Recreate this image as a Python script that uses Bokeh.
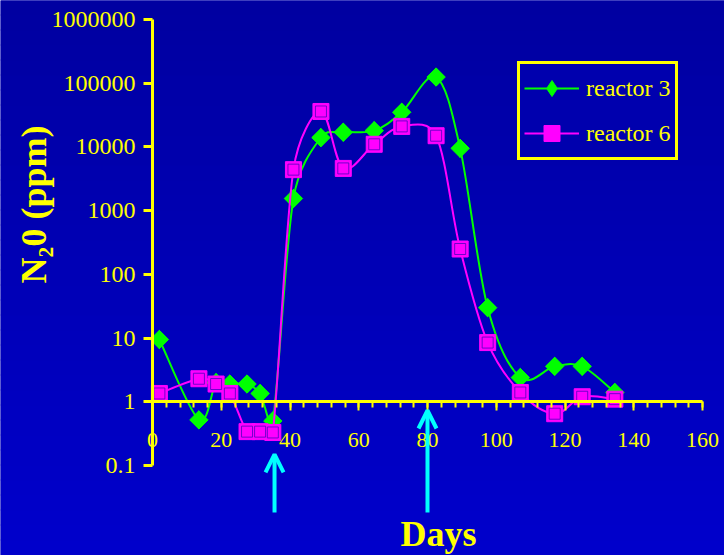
import numpy as np
from bokeh.plotting import figure
from bokeh.models import (Range1d, FixedTicker, BasicTickFormatter, Legend,
                          LegendItem, Arrow, OpenHead, Label, BoxAnnotation)
from bokeh.embed import file_html
from bokeh.resources import INLINE

# Sampling days (shared by both reactors)
days = [2, 13.5, 18.5, 22.5, 27.5, 31.3, 35, 41, 49, 55.5, 64.5, 72.5,
        82.5, 89.5, 97.5, 107, 117, 125, 134.5]

# N2O concentration, ppm
reactor3 = [9.5, 0.52, 2.0, 1.9, 1.9, 1.35, 0.5, 1550, 14000, 17000, 18000,
            35000, 125000, 9500, 30, 2.4, 3.6, 3.6, 1.4]
reactor6 = [1.35, 2.3, 1.9, 1.35, 0.34, 0.34, 0.33, 4400, 36000, 4600, 11000,
            21000, 15000, 250, 8.5, 1.4, 0.65, 1.2, 1.1]

x_ticks = [0, 20, 40, 60, 80, 100, 120, 140, 160]
x_minor = list(range(0, 161, 4))
y_ticks = [0.1, 1, 10, 100, 1000, 10000, 100000, 1000000]

# Event markers along the time axis
arrow_days = [35.5, 80]
arrow_tips = [0.149, 0.73]
arrow_base = 0.0183

W, H = 724, 555
TOP_BG = (0, 0, 0xA0)
BOTTOM_BG = (0, 0, 0xCC)
YELLOW = "#FFFF00"
GREEN = "#00FF00"
MAGENTA = "#FF00FF"
CYAN = "#00FFFF"
SERIF = "Liberation Serif"

# scale used for the curve smoothing (pixels per day, pixels per decade)
PX_DAY = 550 / 160
PX_DEC = 446 / 7


def smooth_segments(xs, ys, limit=0.5):
    """Cubic Bezier pieces through the points, built in (x, log10 y) space.
    Tangent handles are capped relative to the segment length so that steep
    jumps do not make the curve swing past its end points."""
    x = np.asarray(xs, float) * PX_DAY
    ly = np.log10(np.asarray(ys, float)) * PX_DEC
    n = len(x)
    pts = np.c_[x, ly]
    tang = np.zeros_like(pts)
    for k in range(n):
        a = pts[max(k - 1, 0)]
        b = pts[min(k + 1, n - 1)]
        tang[k] = (b - a) / 6
    c0, c1 = [], []
    for i in range(n - 1):
        seg = np.hypot(*(pts[i + 1] - pts[i]))
        t0 = tang[i].copy()
        t1 = tang[i + 1].copy()
        for t in (t0, t1):
            L = np.hypot(*t)
            if L > limit * seg:
                t *= limit * seg / L
        c0.append(pts[i] + t0)
        c1.append(pts[i + 1] - t1)
    c0 = np.array(c0)
    c1 = np.array(c1)
    return dict(x0=x[:-1] / PX_DAY, y0=10 ** (ly[:-1] / PX_DEC),
                x1=x[1:] / PX_DAY, y1=10 ** (ly[1:] / PX_DEC),
                cx0=c0[:, 0] / PX_DAY, cy0=10 ** (c0[:, 1] / PX_DEC),
                cx1=c1[:, 0] / PX_DAY, cy1=10 ** (c1[:, 1] / PX_DEC))


# The plotting frame fills the whole canvas; the axes are pinned at x=0, y=1.
x_lo = -152 / PX_DAY
x_hi = 160 + 22 / PX_DAY
y_lo = 10 ** (-1 - 90 / PX_DEC)
y_hi = 10 ** (6 + 19 / PX_DEC)

p = figure(width=W, height=H, y_axis_type="log",
           x_range=Range1d(x_lo, x_hi), y_range=Range1d(y_lo, y_hi),
           output_backend="svg", toolbar_location=None,
           min_border=0, min_border_left=0, min_border_right=0,
           min_border_top=0, min_border_bottom=0,
           background_fill_color="#0000B6", border_fill_color="#0000B6",
           outline_line_color=None)
p.grid.visible = False

# vertical background shading, darker at the top
bands = 37
edges = np.linspace(0, H, bands + 1)
for k in range(bands):
    f = (k + 0.5) / bands  # 0 at bottom, 1 at top
    b = round(BOTTOM_BG[2] + (TOP_BG[2] - BOTTOM_BG[2]) * f)
    p.add_layout(BoxAnnotation(bottom=edges[k], top=edges[k + 1] + 1,
                               bottom_units="screen", top_units="screen",
                               fill_color="#0000%02X" % b, fill_alpha=1,
                               line_color=None, level="underlay"))

# reactor 3
g_line = p.bezier(**smooth_segments(days, reactor3), line_color=GREEN, line_width=2)
g_key = p.scatter(days, reactor3, marker="diamond", size=18,
                  fill_color=GREEN, line_color=GREEN)
g_pts = p.scatter(days, reactor3, marker="square", angle=np.pi / 4, size=13,
                  fill_color=GREEN, line_color=GREEN)

# reactor 6
m_line = p.bezier(**smooth_segments(days, reactor6), line_color=MAGENTA, line_width=2)
m_pts = p.scatter(days, reactor6, marker="square", size=16,
                  fill_color=MAGENTA, line_color=MAGENTA)
m_inner = p.scatter(days, reactor6, marker="square", size=11,
                    fill_alpha=0, line_color="#5000C0", line_width=1, line_alpha=0.8)

# x axis sits on the y = 1 line
xa = p.xaxis[0]
xa.fixed_location = 1
xa.bounds = (0, 160)
xa.ticker = FixedTicker(ticks=x_ticks, minor_ticks=x_minor)
xa.axis_line_color = YELLOW
xa.axis_line_width = 3
xa.major_tick_line_color = YELLOW
xa.major_tick_line_width = 2
xa.minor_tick_line_color = YELLOW
xa.minor_tick_line_width = 2
xa.major_tick_in = 0
xa.major_tick_out = 9
xa.minor_tick_in = 0
xa.minor_tick_out = 6
xa.major_label_text_color = YELLOW
xa.major_label_text_font = SERIF
xa.major_label_text_font_size = "22px"
xa.major_label_standoff = 22

# y axis sits on the x = 0 line
ya = p.yaxis[0]
ya.fixed_location = 0
ya.bounds = (0.1, 1e6)
ya.ticker = FixedTicker(ticks=y_ticks, minor_ticks=[])
ya.formatter = BasicTickFormatter(use_scientific=False)
ya.axis_line_color = YELLOW
ya.axis_line_width = 3
ya.major_tick_line_color = YELLOW
ya.major_tick_line_width = 3
ya.major_tick_in = 0
ya.major_tick_out = 9
ya.minor_tick_out = 0
ya.major_label_text_color = YELLOW
ya.major_label_text_font = SERIF
ya.major_label_text_font_size = "24px"
ya.major_label_standoff = 8

for xd, tip in zip(arrow_days, arrow_tips):
    p.add_layout(Arrow(x_start=xd, y_start=arrow_base, x_end=xd, y_end=tip,
                       line_color=CYAN, line_width=4,
                       end=OpenHead(size=18, line_color=CYAN, line_width=4)))

p.add_layout(Label(x=33, y=H - 204, x_units="screen", y_units="screen",
                   text="N\u20820 (ppm)", angle=np.pi / 2,
                   text_align="center", text_baseline="middle",
                   text_color=YELLOW, text_font=SERIF, text_font_style="bold",
                   text_font_size="36px"))
p.add_layout(Label(x=438, y=H - 533, x_units="screen", y_units="screen",
                   text="Days", text_align="center", text_baseline="middle",
                   text_color=YELLOW, text_font=SERIF, text_font_style="bold",
                   text_font_size="36px"))

legend = Legend(items=[LegendItem(label="reactor 3", renderers=[g_line, g_key]),
                       LegendItem(label="reactor 6", renderers=[m_line, m_pts])],
                location=(517, H - 160), orientation="vertical",
                border_line_color=YELLOW, border_line_width=3, border_line_alpha=1,
                background_fill_color="#0000AE", background_fill_alpha=1,
                label_text_color=YELLOW, label_text_font=SERIF,
                label_text_font_size="24px", glyph_width=55, glyph_height=40,
                label_height=40, spacing=5, padding=4, margin=0,
                label_standoff=7)
p.add_layout(legend)

open("out.html", "w").write(file_html(p, INLINE))
